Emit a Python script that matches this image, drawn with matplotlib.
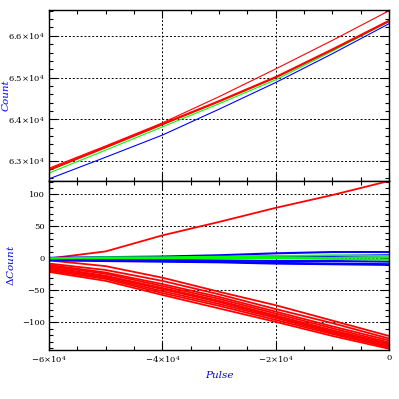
import matplotlib
matplotlib.use('Agg')
from matplotlib import pyplot as plt
from matplotlib.ticker import MultipleLocator, FixedLocator
import numpy as np

plt.rcParams['font.family'] = ['DejaVu Serif']
plt.rcParams['mathtext.fontset'] = 'dejavuserif'

pulse = [-60000, -50000, -40000, -30000, -20000, -10000, 0]

# top panel: counts
count_blue = [62570, 63090, 63620, 64240, 64880, 65570, 66290]
count_green = [62710, 63260, 63817, 64370, 64945, 65630, 66340]
count_red = [
    [62770, 63315, 63865, 64415, 64990, 65655, 66340],
    [62786, 63330, 63880, 64430, 65007, 65670, 66357],
    [62800, 63345, 63895, 64445, 65022, 65685, 66372],
    [62826, 63360, 63912, 64540, 65206, 65890, 66600],
]

# bottom panel: delta counts
dcount_red = [
    [0, 11, 36, 57, 79, 99, 121],
    [-3, -12, -30, -52, -73, -97, -121],
    [-8, -18, -35, -56, -79, -101, -125],
    [-10, -22, -40, -60, -83, -106, -128],
    [-12, -24, -43, -63, -86, -109, -131],
    [-14, -27, -46, -66, -89, -112, -133],
    [-15, -28, -48, -68, -91, -114, -135],
    [-17, -30, -51, -71, -93, -116, -137],
    [-19, -32, -54, -74, -96, -118, -139],
    [-21, -35, -57, -78, -99, -121, -141],
]
dcount_blue = [
    [1, 2, 3, 5, 8, 10, 10],
    [0, 0, 1, 2, 3, 4, 5],
    [-1, -2, -2, -3, -4, -4, -5],
    [-2, -3, -4, -5, -7, -8, -9],
    [-3, -4, -5, -6, -8, -9, -10],
]
dcount_green = [
    [0, 2, 2, 3, 4, 5, 4],
    [0, 1, 1, 2, 2, 1, 1],
    [0, 0, 0, 0, 0, -1, -2],
]

xticks = [-60000, -40000, -20000, 0]
xticklabels = [r'$-6{\times}10^4$', r'$-4{\times}10^4$', r'$-2{\times}10^4$', '0']
ytop_ticks = [63000, 64000, 65000, 66000]
ytop_labels = [r'$6.3{\times}10^4$', r'$6.4{\times}10^4$', r'$6.5{\times}10^4$', r'$6.6{\times}10^4$']

fig = plt.figure(figsize=(3.99, 3.99), dpi=100)
ax1 = fig.add_axes([0.1228, 0.5464, 0.852, 0.4286])
ax2 = fig.add_axes([0.1228, 0.1228, 0.852, 0.4236])

lw = 0.8
ax1.plot(pulse, count_blue, color='#0000ff', lw=lw)
ax1.plot(pulse, count_green, color='#00ff00', lw=lw)
for r in count_red:
    ax1.plot(pulse, r, color='#ff0000', lw=lw)

for r in dcount_red:
    ax2.plot(pulse, r, color='#ff0000', lw=1.3)
for b in dcount_blue:
    ax2.plot(pulse, b, color='#0000ff', lw=1.5)
for g in dcount_green:
    ax2.plot(pulse, g, color='#00ff00', lw=1.2)

for ax in (ax1, ax2):
    ax.set_xlim(-60000, 0)
    ax.xaxis.set_major_locator(FixedLocator(xticks))
    ax.xaxis.set_minor_locator(MultipleLocator(5000))
    ax.tick_params(which='both', direction='in', top=True, right=True,
                   labelsize=6, width=0.8, pad=3)
    ax.tick_params(which='major', length=6)
    ax.tick_params(which='minor', length=3)
    ax.grid(True, which='major', color='black', ls=(0, (2, 2)), lw=0.7)
    for s in ax.spines.values():
        s.set_linewidth(1.0)

ax1.set_ylim(62520, 66620)
ax1.set_yticks(ytop_ticks)
ax1.set_yticklabels(ytop_labels)
ax1.yaxis.set_minor_locator(MultipleLocator(200))
ax1.set_xticklabels([])
ax1.set_ylabel('Count', color='#0000ff', style='italic', fontsize=7.5)
ax1.yaxis.set_label_coords(-0.112, 0.5)

ax2.set_ylim(-143, 121)
ax2.set_yticks([-100, -50, 0, 50, 100])
ax2.yaxis.set_minor_locator(MultipleLocator(10))
ax2.set_xticklabels(xticklabels)
ax2.set_ylabel(r'$\Delta$Count', color='#0000ff', style='italic', fontsize=7.5)
ax2.yaxis.set_label_coords(-0.098, 0.5)
ax2.set_xlabel('Pulse', color='#0000ff', style='italic', fontsize=7.5)
ax2.xaxis.set_label_coords(0.5, -0.125)

fig.savefig('out.png', dpi=100)
